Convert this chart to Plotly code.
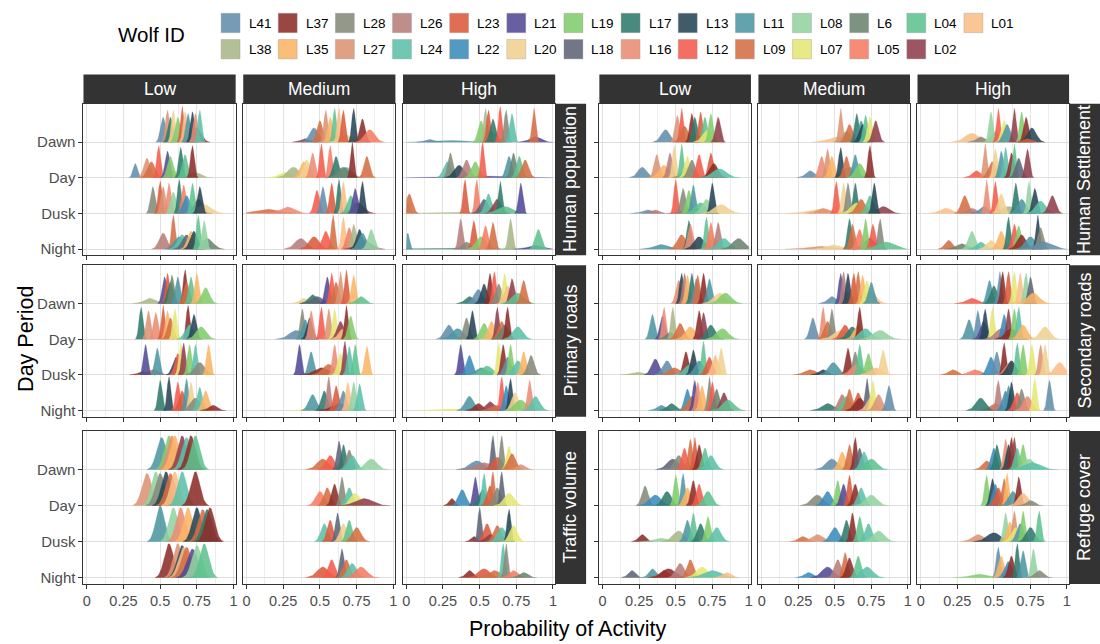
import numpy as np
import plotly.graph_objects as go

W, H = 1100, 644

WOLVES = ["L41", "L38", "L37", "L35", "L28", "L27", "L26", "L24", "L23", "L22",
          "L21", "L20", "L19", "L18", "L17", "L16", "L13", "L12", "L11", "L09",
          "L08", "L07", "L6", "L05", "L04", "L02", "L01"]
WOLF_COLORS = ["#638EAB", "#A9B685", "#8C2D2A", "#F9B565", "#858A7B", "#DC9372",
               "#B67D7A", "#5CC0A8", "#DB5A3C", "#3A8BBB", "#514A95", "#F1D08F",
               "#82CC6C", "#5E6476", "#2F7A6C", "#EA8C74", "#264555", "#F25B4B",
               "#4D96A3", "#D46E43", "#93D3A0", "#E5E774", "#6A8470", "#F57C62",
               "#5DC290", "#8F3F4B", "#F9BE88"]
COLOR = dict(zip(WOLVES, WOLF_COLORS))

PERIODS = ["Night", "Dusk", "Day", "Dawn"]          # y = 1..4
LEVELS = ["Low", "Medium", "High"]
LEFT_FACTORS = ["Human population", "Primary roads", "Traffic volume"]
RIGHT_FACTORS = ["Human Settlement", "Secondary roads", "Refuge cover"]
X_TICKS = [0, 0.25, 0.5, 0.75, 1]
X_TICK_TEXT = ["0", "0.25", "0.5", "0.75", "1"]

# each ridge: (wolf, peak location, peak height in row units[, spread])
hp_low = {
    "Dawn": [("L37", .75, .4, .03), ("L41", .52, .7), ("L27", .55, .9), ("L17", .57, .7), ("L20", .59, .9),
             ("L19", .62, .7), ("L23", .65, 1.0), ("L01", .67, .85), ("L11", .69, .8), ("L13", .72, .85),
             ("L16", .74, .8), ("L24", .77, .9)],
    "Day": [("L38", .74, .15, .04), ("L07", .59, .2, .04), ("L41", .33, .4, .015), ("L27", .41, .55),
            ("L09", .44, .45), ("L12", .49, .9), ("L21", .55, .75), ("L19", .57, .6), ("L17", .64, .85),
            ("L04", .67, .65), ("L37", .72, .9)],
    "Dusk": [("L02", .76, .4), ("L20", .80, .25), ("L28", .45, .75), ("L23", .50, .9), ("L27", .52, .75),
             ("L16", .56, .85), ("L08", .59, .6), ("L17", .63, .95), ("L05", .66, .8), ("L22", .68, .5),
             ("L04", .72, .85), ("L13", .77, .75)],
    "Night": [("L6", .82, .3), ("L26", .52, .45), ("L09", .59, .95), ("L11", .63, .35), ("L24", .65, .4),
              ("L18", .68, .4), ("L35", .71, .5), ("L13", .73, .5), ("L04", .76, .95), ("L08", .80, .8)],
}
hp_med = {
    "Dawn": [("L02", .40, .1, .03), ("L41", .46, .4), ("L09", .50, .6), ("L27", .54, .9), ("L35", .57, .7),
             ("L04", .60, .95), ("L01", .63, .95), ("L20", .68, .2, .04), ("L23", .66, .9), ("L13", .73, .95),
             ("L37", .79, .65), ("L05", .84, .35)],
    "Day": [("L07", .26, .15, .04), ("L38", .32, .3), ("L35", .39, .45), ("L20", .41, .5), ("L16", .45, .7),
            ("L12", .51, .95), ("L05", .57, .9), ("L17", .61, .6), ("L24", .68, .3), ("L6", .66, .3),
            ("L37", .72, 1.0), ("L09", .82, .6)],
    "Dusk": [("L09", .14, .12, .08), ("L16", .28, .18, .05), ("L12", .48, .65), ("L41", .52, .75),
             ("L23", .58, .85), ("L17", .63, .95), ("L01", .66, .9), ("L02", .76, .3), ("L04", .71, .5),
             ("L21", .74, .7), ("L13", .79, .9)],
    "Night": [("L26", .37, .3), ("L23", .46, .35), ("L12", .54, .5), ("L09", .59, .95), ("L01", .66, .9),
              ("L05", .70, .6), ("L38", .73, .7), ("L02", .80, .25), ("L13", .77, .55), ("L11", .79, .45),
              ("L08", .85, .55)],
}
hp_high = {
    "Dawn": [("L11", .30, .05, .12), ("L41", .16, .08, .03), ("L21", .88, .15, .04), ("L04", .58, .3, .04),
             ("L19", .51, .6), ("L38", .54, .95), ("L23", .56, .9), ("L17", .59, .65), ("L12", .64, 1.0),
             ("L28", .68, .9), ("L24", .72, .8), ("L09", .87, .95)],
    "Day": [("L21", .50, .05, .2), ("L24", .28, .45), ("L28", .30, .7), ("L13", .36, .35), ("L26", .41, .5),
            ("L19", .47, .45), ("L12", .52, 1.0), ("L11", .70, .6), ("L6", .73, .7), ("L04", .77, .6),
            ("L09", .81, .5)],
    "Dusk": [("L38", .30, .04, .15), ("L08", .01, .3, .012), ("L09", .02, .55), ("L23", .40, .95),
             ("L05", .48, .95), ("L18", .53, .4), ("L24", .56, .55), ("L02", .62, .4), ("L17", .64, .9),
             ("L04", .67, .2, .05), ("L21", .78, .85)],
    "Night": [("L17", .28, .03, .18), ("L11", .01, .45, .012), ("L26", .37, .85), ("L28", .41, .2, .03),
              ("L23", .46, .8), ("L19", .51, .35), ("L05", .54, .65), ("L09", .59, .75), ("L38", .71, .85),
              ("L21", .88, .1, .05), ("L04", .90, .55)],
}
hs_low = {
    "Dawn": [("L01", .69, .2, .05), ("L41", .43, .35, .03), ("L27", .51, .75), ("L12", .54, .95),
             ("L09", .56, .45), ("L37", .61, .8), ("L17", .63, .7), ("L23", .67, .85), ("L04", .70, .7),
             ("L07", .72, .35), ("L19", .74, .8), ("L02", .79, .7)],
    "Day": [("L41", .27, .3, .03), ("L27", .37, .65), ("L35", .42, .35), ("L26", .46, .7), ("L20", .49, .9),
            ("L09", .59, .3, .04), ("L04", .54, .95), ("L07", .58, .6), ("L28", .61, .5), ("L12", .66, .65),
            ("L23", .74, .7), ("L37", .76, .4), ("L24", .80, .25)],
    "Dusk": [("L41", .31, .1, .04), ("L26", .36, .1, .03), ("L02", .62, .15, .06), ("L12", .50, .95),
             ("L28", .55, .7), ("L19", .59, .65), ("L11", .62, .8), ("L04", .67, .3), ("L08", .71, .4),
             ("L13", .75, .85), ("L20", .81, .25)],
    "Night": [("L11", .40, .13, .05), ("L09", .54, .4), ("L17", .59, .8), ("L16", .60, .7), ("L13", .66, .35),
              ("L01", .76, .3, .03), ("L04", .71, .9), ("L05", .74, .75), ("L26", .79, .75), ("L24", .83, .3),
              ("L6", .93, .3)],
}
hs_med = {
    "Dawn": [("L01", .52, .15, .06), ("L24", .58, .3, .03), ("L27", .54, .95), ("L09", .60, .5),
             ("L17", .65, .8), ("L11", .68, .6), ("L13", .69, .5), ("L04", .71, .75), ("L07", .74, .7),
             ("L02", .78, .6)],
    "Day": [("L41", .33, .2, .03), ("L24", .60, .3, .05), ("L16", .41, .6), ("L27", .45, .8), ("L35", .48, .6),
            ("L13", .54, .85), ("L09", .58, .6), ("L11", .64, .65), ("L19", .67, .4), ("L37", .74, .9)],
    "Dusk": [("L01", .40, .12, .08), ("L27", .42, .15, .04), ("L02", .83, .2, .04), ("L12", .51, .9),
             ("L20", .56, .85), ("L28", .59, .85), ("L17", .64, .85), ("L07", .65, .3), ("L09", .68, .4),
             ("L04", .74, .5), ("L13", .77, .85)],
    "Night": [("L27", .40, .08, .08), ("L20", .49, .12, .05), ("L02", .74, .3, .04), ("L17", .60, .85),
              ("L09", .62, .7), ("L05", .67, .55), ("L19", .71, .85), ("L12", .76, .7), ("L28", .81, .85),
              ("L04", .85, .2)],
}
hs_high = {
    "Dawn": [("L01", .35, .25), ("L28", .41, .15, .03), ("L38", .51, .3, .03), ("L08", .48, .85),
             ("L12", .53, .95), ("L07", .57, .6), ("L11", .59, .5), ("L02", .64, .95), ("L19", .69, .85),
             ("L37", .72, .7), ("L13", .76, .4), ("L23", .73, .1, .03)],
    "Day": [("L12", .38, .2, .03), ("L27", .44, .95), ("L09", .49, .45), ("L20", .51, .8), ("L11", .55, .75),
            ("L24", .58, .85), ("L37", .62, .7), ("L04", .64, .95), ("L18", .67, .55), ("L02", .73, .8)],
    "Dusk": [("L01", .17, .15, .04), ("L09", .30, .5), ("L26", .35, .15, .03), ("L41", .43, .2, .03),
             ("L38", .60, .2, .05), ("L16", .45, .95), ("L12", .51, .9), ("L20", .55, .55), ("L17", .65, .85),
             ("L11", .69, .4), ("L08", .74, .9), ("L13", .78, .7), ("L24", .82, .35), ("L02", .90, .5)],
    "Night": [("L09", .19, .25, .025), ("L6", .28, .15, .04), ("L08", .35, .5), ("L24", .41, .2, .03),
              ("L20", .48, .25, .03), ("L35", .55, .5), ("L17", .60, .9), ("L12", .64, .7), ("L19", .67, .65),
              ("L37", .69, .4), ("L11", .75, .35), ("L13", .80, .95), ("L28", .82, .6), ("L41", .84, .2)],
}
pr_low = {
    "Dawn": [("L38", .43, .15, .04), ("L21", .53, .75), ("L23", .55, .85), ("L17", .57, .6), ("L6", .58, .8),
             ("L11", .62, .75), ("L37", .67, .95), ("L09", .68, .6), ("L04", .71, .75), ("L35", .75, .85),
             ("L19", .81, .45)],
    "Day": [("L17", .37, .9), ("L27", .42, .8), ("L16", .47, .75), ("L23", .52, .95), ("L35", .55, .8),
            ("L09", .57, .6), ("L07", .60, .85), ("L37", .69, .95), ("L24", .70, .4), ("L13", .73, .7),
            ("L19", .78, .35)],
    "Dusk": [("L37", .38, .1, .03), ("L09", .45, .15, .04), ("L21", .40, .85), ("L11", .48, .75),
             ("L13", .61, .5), ("L12", .62, .6), ("L07", .64, .9), ("L02", .66, .9), ("L19", .70, .85),
             ("L24", .74, .85), ("L28", .77, .35), ("L35", .83, .85)],
    "Night": [("L17", .50, .85), ("L13", .56, .95), ("L12", .62, .8), ("L23", .65, .55), ("L11", .68, .9),
              ("L20", .71, .8), ("L28", .74, .35), ("L24", .77, .65), ("L35", .81, .55), ("L37", .86, .15, .03)],
}
pr_med = {
    "Dawn": [("L20", .39, .15, .03), ("L17", .45, .25, .03), ("L18", .48, .2, .04), ("L21", .55, .75),
             ("L12", .58, .85), ("L09", .61, .6), ("L27", .64, .9), ("L23", .68, .95), ("L35", .73, .8),
             ("L04", .78, .2, .03)],
    "Day": [("L41", .34, .25), ("L28", .38, .85), ("L11", .40, .55), ("L13", .43, .6), ("L16", .44, .8),
            ("L12", .51, .9), ("L27", .56, .85), ("L07", .60, .85), ("L02", .64, .5), ("L01", .66, .3, .03),
            ("L37", .68, .95), ("L19", .71, .65)],
    "Dusk": [("L21", .36, .85), ("L11", .44, .65), ("L37", .51, .2, .05), ("L09", .56, .3, .04),
             ("L16", .60, .85), ("L07", .64, .6), ("L02", .67, .95), ("L24", .70, .8), ("L04", .74, .85),
             ("L35", .82, .8)],
    "Night": [("L07", .43, .08, .04), ("L11", .45, .45), ("L17", .53, .55), ("L26", .56, .95),
              ("L37", .63, .2, .05), ("L23", .61, .7), ("L41", .66, .55), ("L01", .69, .8), ("L08", .73, .8),
              ("L24", .77, .75)],
}
pr_high = {
    "Dawn": [("L17", .43, .2, .03), ("L41", .49, .4), ("L13", .53, .55), ("L37", .57, .85), ("L12", .60, .9),
             ("L28", .63, .55), ("L07", .67, .85), ("L01", .69, .5), ("L02", .72, .7), ("L04", .76, .3),
             ("L09", .80, .65)],
    "Day": [("L41", .29, .4), ("L11", .35, .3), ("L28", .41, .6), ("L13", .45, .8), ("L19", .53, .45),
            ("L35", .58, .5), ("L02", .62, .9), ("L09", .65, .5), ("L6", .67, .4), ("L37", .69, .9),
            ("L24", .76, .35)],
    "Dusk": [("L21", .37, .85), ("L22", .43, .55), ("L11", .51, .2, .04), ("L04", .55, .25, .04),
             ("L07", .63, .9), ("L37", .66, .85), ("L41", .69, .5), ("L19", .71, .85), ("L24", .76, .4),
             ("L35", .80, .65), ("L28", .85, .55)],
    "Night": [("L07", .30, .05, .07), ("L11", .43, .4), ("L37", .49, .2, .03), ("L02", .57, .25, .03),
              ("L09", .61, .15, .04), ("L12", .65, .95), ("L22", .68, .7), ("L13", .71, .9), ("L20", .74, .5),
              ("L19", .78, .3), ("L16", .84, .85), ("L24", .88, .4)],
}
sr_low = {
    "Dawn": [("L01", .64, .25, .04), ("L16", .52, .65), ("L13", .54, .85), ("L26", .56, .85), ("L35", .58, .8),
             ("L17", .61, .85), ("L41", .64, .7), ("L09", .65, .8), ("L37", .69, .85), ("L11", .73, .7),
             ("L20", .80, .3), ("L19", .84, .3)],
    "Day": [("L11", .34, .7), ("L21", .41, .65), ("L16", .42, .9), ("L6", .46, .2, .03), ("L38", .48, .9),
            ("L09", .53, .45), ("L35", .60, .35), ("L37", .66, .8), ("L02", .69, .75), ("L17", .74, .4),
            ("L19", .82, .3)],
    "Dusk": [("L38", .24, .08, .04), ("L21", .36, .45), ("L41", .44, .4), ("L09", .49, .2, .04),
             ("L37", .57, .65), ("L24", .60, .3), ("L13", .62, .7), ("L11", .66, .4), ("L04", .69, .95),
             ("L23", .73, .5), ("L01", .77, .55), ("L20", .81, .75)],
    "Night": [("L11", .40, .15, .03), ("L17", .47, .2, .03), ("L22", .58, .6), ("L09", .61, .4),
              ("L21", .63, .85), ("L16", .65, .8), ("L35", .68, .7), ("L28", .73, .95), ("L12", .75, .8),
              ("L6", .78, .6), ("L02", .83, .5), ("L04", .86, .3)],
}
sr_med = {
    "Dawn": [("L41", .48, .2, .03), ("L24", .58, .35, .04), ("L01", .74, .35, .04), ("L21", .54, .85),
             ("L26", .56, .9), ("L13", .59, .85), ("L23", .63, .85), ("L09", .66, .9), ("L35", .69, .8),
             ("L07", .72, .65), ("L11", .75, .6)],
    "Day": [("L41", .35, .6), ("L16", .42, .9), ("L09", .45, .5), ("L28", .48, .85), ("L20", .54, .25),
            ("L23", .57, .4), ("L17", .62, .35), ("L35", .66, .4), ("L37", .67, .9), ("L24", .71, .3),
            ("L08", .81, .25)],
    "Dusk": [("L09", .33, .15, .04), ("L13", .42, .15, .03), ("L11", .49, .35), ("L37", .59, .75),
             ("L28", .64, .65), ("L16", .65, .3, .04), ("L04", .67, .85), ("L19", .73, .6), ("L01", .78, .2, .04),
             ("L20", .83, .7)],
    "Night": [("L17", .45, .2, .04), ("L26", .55, .45), ("L04", .58, .4), ("L09", .60, .6), ("L23", .66, .5),
              ("L37", .67, .35), ("L18", .72, .9), ("L01", .75, .4), ("L07", .76, .85), ("L27", .80, .45),
              ("L41", .87, .7)],
}
sr_high = {
    "Dawn": [("L12", .35, .15, .04), ("L11", .47, .65), ("L17", .50, .5), ("L41", .54, .9), ("L37", .56, .9),
             ("L23", .60, .9), ("L07", .64, .9), ("L01", .68, .85), ("L08", .72, .85), ("L18", .75, .75),
             ("L35", .77, .3)],
    "Day": [("L11", .33, .55), ("L41", .39, .8), ("L21", .43, .5), ("L13", .44, .85), ("L07", .49, .9),
            ("L26", .55, .3), ("L22", .57, .7), ("L02", .60, .85), ("L37", .62, .3), ("L19", .64, .85),
            ("L24", .67, .9), ("L35", .70, .4), ("L20", .85, .35)],
    "Dusk": [("L09", .22, .15, .03), ("L05", .37, .15, .04), ("L22", .48, .5), ("L41", .52, .65),
             ("L37", .57, .9), ("L16", .61, .35), ("L13", .62, .4), ("L04", .66, .9), ("L19", .70, .85),
             ("L07", .76, .85), ("L27", .82, .85), ("L20", .85, .85), ("L01", .95, .35)],
    "Night": [("L09", .51, .2, .04), ("L17", .41, .35), ("L26", .53, .85), ("L22", .58, .55), ("L11", .60, .7),
              ("L13", .62, .8), ("L12", .66, .5), ("L28", .69, .6), ("L16", .73, .4), ("L07", .78, .9),
              ("L41", .88, .85)],
}
tv_low = {
    "Dawn": [("L11", .51, .9), ("L19", .56, .95), ("L16", .58, .95), ("L35", .60, .95), ("L02", .65, .95),
             ("L24", .68, .9), ("L37", .71, .95), ("L04", .74, .95)],
    "Day": [("L27", .41, .9), ("L08", .47, .95), ("L28", .50, .9), ("L13", .54, .95), ("L09", .57, .9),
            ("L01", .60, .95), ("L24", .65, .95), ("L37", .74, .95)],
    "Dusk": [("L11", .50, 1.0), ("L08", .59, .95), ("L16", .64, .95), ("L35", .69, .95), ("L13", .75, .95),
             ("L09", .79, .9), ("L17", .82, .9), ("L37", .84, .95)],
    "Night": [("L37", .56, .95), ("L27", .62, .95), ("L13", .65, .9), ("L01", .66, .85), ("L09", .68, .85),
              ("L21", .72, .8), ("L08", .75, .9), ("L04", .80, .95)],
}
tv_med = {
    "Dawn": [("L09", .52, .3), ("L12", .57, .4), ("L18", .63, .8), ("L17", .66, .7), ("L28", .70, .55),
             ("L24", .72, .4), ("L08", .85, .3)],
    "Day": [("L05", .50, .4), ("L09", .55, .5), ("L37", .60, .6), ("L28", .65, .8), ("L24", .70, .5),
            ("L07", .74, .35), ("L02", .80, .2)],
    "Dusk": [("L24", .53, .5), ("L23", .57, .6), ("L18", .62, .8), ("L20", .66, .5), ("L04", .70, .6),
             ("L09", .75, .4)],
    "Night": [("L23", .52, .3), ("L12", .58, .5), ("L18", .65, .8), ("L09", .68, .5), ("L24", .72, .4),
              ("L05", .78, .3)],
}
tv_high = {
    "Dawn": [("L41", .48, .25), ("L26", .53, .2), ("L18", .59, .95), ("L23", .62, .35), ("L28", .65, .95),
             ("L07", .70, .65), ("L09", .72, .45), ("L27", .78, .15, .03)],
    "Day": [("L37", .31, .2, .02), ("L22", .38, .45), ("L21", .47, .8), ("L17", .52, .45), ("L24", .53, .9),
            ("L23", .57, .55), ("L09", .59, .95), ("L28", .62, .5), ("L18", .65, .95), ("L07", .70, .35)],
    "Dusk": [("L37", .46, .15, .02), ("L18", .50, .95), ("L23", .55, .5), ("L02", .57, .2, .03),
             ("L09", .62, .45), ("L24", .65, .4), ("L13", .70, .9), ("L07", .73, .45)],
    "Night": [("L37", .43, .2, .025), ("L23", .53, .25, .04), ("L09", .60, .2, .04), ("L24", .66, .95),
              ("L28", .68, .95), ("L05", .73, .2, .03), ("L6", .80, .15, .03)],
}
rc_low = {
    "Dawn": [("L18", .48, .3), ("L28", .52, .4), ("L12", .56, .6), ("L09", .60, .85), ("L23", .63, .9),
             ("L37", .66, .7), ("L04", .70, .6), ("L24", .74, .4)],
    "Day": [("L28", .29, .55), ("L22", .36, .3), ("L17", .44, .4), ("L19", .50, .85), ("L11", .55, .9),
            ("L35", .58, .5), ("L37", .62, .7), ("L12", .66, .6), ("L04", .72, .4)],
    "Dusk": [("L37", .27, .2, .025), ("L08", .40, .1, .05), ("L38", .52, .3), ("L11", .58, .6), ("L04", .62, .8),
             ("L17", .67, .5), ("L19", .72, .7), ("L24", .78, .4)],
    "Night": [("L18", .20, .2, .025), ("L11", .34, .25, .025), ("L12", .42, .2, .03), ("L37", .45, .25),
              ("L26", .53, .4), ("L09", .60, .5), ("L07", .68, .3), ("L24", .75, .2), ("L01", .85, .15, .03)],
}
rc_med = {
    "Dawn": [("L41", .48, .3), ("L35", .55, .5), ("L09", .60, .7), ("L37", .64, .9), ("L18", .67, .6),
             ("L24", .70, .5), ("L04", .75, .3)],
    "Day": [("L28", .38, .3), ("L22", .45, .4), ("L19", .52, .7), ("L21", .56, .6), ("L23", .60, .85),
            ("L37", .64, .6), ("L24", .68, .5), ("L08", .75, .3)],
    "Dusk": [("L09", .28, .15, .03), ("L27", .38, .2, .04), ("L22", .50, .4), ("L17", .58, .6), ("L37", .62, .8),
             ("L04", .67, .7), ("L24", .73, .5), ("L08", .80, .3)],
    "Night": [("L22", .32, .15, .03), ("L21", .45, .3), ("L26", .52, .5), ("L09", .57, .7), ("L37", .60, .55),
              ("L04", .66, .6), ("L24", .72, .3)],
}
rc_high = {
    "Dawn": [("L09", .45, .25, .03), ("L22", .50, .6), ("L17", .52, .7), ("L16", .58, .85), ("L13", .60, .7),
             ("L37", .62, .9), ("L02", .64, .9), ("L04", .66, .6), ("L19", .70, .7), ("L08", .74, .3),
             ("L24", .76, .2)],
    "Day": [("L19", .45, .85), ("L13", .49, .75), ("L22", .51, .6), ("L23", .53, .5), ("L09", .57, .75),
            ("L35", .59, .9), ("L11", .63, .4), ("L37", .67, .8), ("L01", .70, .35), ("L28", .75, .15, .03)],
    "Dusk": [("L27", .39, .2, .04), ("L13", .50, .25), ("L08", .58, .8), ("L35", .61, .55), ("L27", .64, .85),
             ("L07", .65, .4), ("L11", .68, .5), ("L19", .70, .85), ("L17", .75, .4), ("L04", .81, .85)],
    "Night": [("L19", .40, .1, .06), ("L41", .53, .85), ("L35", .55, .6), ("L22", .60, .45), ("L37", .62, .6),
              ("L17", .66, .95), ("L11", .70, .75), ("L08", .77, .8), ("L28", .81, .2, .03)],
}

LEFT_DATA = [[hp_low, hp_med, hp_high], [pr_low, pr_med, pr_high], [tv_low, tv_med, tv_high]]
RIGHT_DATA = [[hs_low, hs_med, hs_high], [sr_low, sr_med, sr_high], [rc_low, rc_med, rc_high]]
AREA = {id(tv_low): 0.03}
DEFAULT_AREA = 0.012

# ---------------- layout geometry (pixels) ----------------
LEFT_COLS = [82.7, 242.9, 403.1]
LEFT_W = 152.6
RIGHT_COLS = [600.0, 759.5, 919.0]
RIGHT_W = 152.0
ROWS = [(104.0, 256.0), (266.0, 418.0), (432.3, 585.7)]
XR = [-0.0225, 1.015]
YR = [0.83, 5.08]
FONT = "Liberation Sans, Arial, Helvetica, sans-serif"
STRIP = "#333333"
TXT = "#4D4D4D"


def rgba(hexc, a):
    h = hexc.lstrip("#")
    return "rgba(%d,%d,%d,%.2f)" % (int(h[0:2], 16), int(h[2:4], 16), int(h[4:6], 16), a)


fig = go.Figure()
layout = {}
shapes = []
annotations = []

k = 0
for group, (cols, cw, data, factors) in enumerate([(LEFT_COLS, LEFT_W, LEFT_DATA, LEFT_FACTORS),
                                                   (RIGHT_COLS, RIGHT_W, RIGHT_DATA, RIGHT_FACTORS)]):
    for r in range(3):
        top, bot = ROWS[r]
        for c in range(3):
            k += 1
            left = cols[c]
            right = left + cw
            panel = data[r][c]
            area = AREA.get(id(panel), DEFAULT_AREA)
            xa = "x" if k == 1 else "x%d" % k
            ya = "y" if k == 1 else "y%d" % k
            # ridges: top row first so lower rows overlap
            for pi in [3, 2, 1, 0]:
                per = PERIODS[pi]
                base = pi + 1
                for item in panel[per]:
                    wolf, m, h = item[0], item[1], item[2]
                    sd = item[3] if len(item) > 3 else min(area / h, 0.08)
                    lo = max(0.0, m - 3 * sd)
                    hi = min(1.0, m + 3 * sd)
                    xs = np.linspace(lo, hi, 50)
                    ys = base + h * np.exp(-0.5 * ((xs - m) / sd) ** 2)
                    px = np.concatenate([[lo], xs, [hi]])
                    py = np.concatenate([[base], ys, [base]])
                    col = COLOR[wolf]
                    fig.add_trace(go.Scatter(
                        x=px, y=py, mode="lines", fill="toself",
                        fillcolor=rgba(col, 0.88), line=dict(width=0.3, color=rgba(col, 0.9)),
                        hoverinfo="skip", showlegend=False, xaxis=xa, yaxis=ya))
            xkey = "xaxis" if k == 1 else "xaxis%d" % k
            ykey = "yaxis" if k == 1 else "yaxis%d" % k
            layout[xkey] = dict(
                domain=[left / W, right / W], range=XR, anchor=ya,
                tickvals=X_TICKS, ticktext=X_TICK_TEXT, ticks="outside", ticklen=4,
                tickcolor="#333333", tickwidth=1, showticklabels=(r == 2),
                tickfont=dict(size=14.5, color=TXT, family=FONT),
                showgrid=True, gridcolor="#E2E2E2", gridwidth=1.3, zeroline=False,
                showline=True, mirror=True, linecolor="#333333", linewidth=1,
                minor=dict(tickmode="array", tickvals=[0.125, 0.375, 0.625, 0.875],
                           showgrid=True, gridcolor="#EDEDED", gridwidth=0.8, ticks=""),
                fixedrange=True)
            layout[ykey] = dict(
                domain=[1 - bot / H, 1 - top / H], range=YR, anchor=xa,
                tickvals=[1, 2, 3, 4], ticktext=PERIODS,
                ticks="outside" if c == 0 else "", ticklen=4, tickcolor="#333333", tickwidth=1,
                showticklabels=(c == 0 and group == 0),
                tickfont=dict(size=15, color=TXT, family=FONT),
                showgrid=True, gridcolor="#DEDEDE", gridwidth=1.4, zeroline=False,
                showline=True, mirror=True, linecolor="#333333", linewidth=1,
                fixedrange=True)
            # column header strips (top row only)
            if r == 0:
                shapes.append(dict(type="rect", xref="paper", yref="paper",
                                   x0=left / W, x1=right / W, y0=1 - 104.0 / H, y1=1 - 74.7 / H,
                                   fillcolor=STRIP, line=dict(width=0), layer="above"))
                annotations.append(dict(xref="paper", yref="paper", x=(left + right) / 2 / W,
                                        y=1 - 89.5 / H, text=LEVELS[c], showarrow=False,
                                        xanchor="center", yanchor="middle",
                                        font=dict(size=17.5, color="white", family=FONT)))
        # side strip
        sx0 = cols[2] + cw
        sx1 = sx0 + 31
        shapes.append(dict(type="rect", xref="paper", yref="paper",
                           x0=sx0 / W, x1=sx1 / W, y0=1 - bot / H, y1=1 - top / H,
                           fillcolor=STRIP, line=dict(width=0), layer="above"))
        annotations.append(dict(xref="paper", yref="paper", x=(sx0 + 15.5) / W,
                                y=1 - (top + bot) / 2 / H, text=factors[r], showarrow=False,
                                textangle=-90, xanchor="center", yanchor="middle",
                                font=dict(size=18, color="white", family=FONT)))

# axis titles
annotations.append(dict(xref="paper", yref="paper", x=25 / W, y=1 - 340 / H, text="Day Period",
                        showarrow=False, textangle=-90, xanchor="center", yanchor="middle",
                        font=dict(size=21.5, color="black", family=FONT)))
annotations.append(dict(xref="paper", yref="paper", x=567.7 / W, y=1 - 631 / H,
                        text="Probability of Activity", showarrow=False,
                        xanchor="center", yanchor="middle",
                        font=dict(size=21.5, color="black", family=FONT)))

# legend (drawn as keys + labels)
annotations.append(dict(xref="paper", yref="paper", x=115 / W, y=1 - 35 / H, text="Wolf ID",
                        showarrow=False, xanchor="left", yanchor="middle",
                        font=dict(size=20.5, color="black", family=FONT)))
for i, wolf in enumerate(WOLVES):
    cidx, ridx = i // 2, i % 2
    kx = 220.7 + cidx * 57.3
    ky = 13.3 + ridx * 26.3
    shapes.append(dict(type="rect", xref="paper", yref="paper",
                       x0=kx / W, x1=(kx + 19) / W, y0=1 - (ky + 19.5) / H, y1=1 - ky / H,
                       fillcolor=rgba(COLOR[wolf], 0.88), line=dict(width=0.6, color="rgba(150,150,150,0.6)")))
    annotations.append(dict(xref="paper", yref="paper", x=(kx + 25.5) / W, y=1 - (ky + 10) / H,
                            text=wolf, showarrow=False, xanchor="left", yanchor="middle",
                            font=dict(size=13.5, color="black", family=FONT)))

fig.update_layout(
    width=W, height=H, margin=dict(l=0, r=0, t=0, b=0),
    paper_bgcolor="white", plot_bgcolor="white", showlegend=False,
    shapes=shapes, annotations=annotations, font=dict(family=FONT), **layout)

fig.write_html("out.html", config={"displayModeBar": False},
               post_script="document.body.style.margin='0';document.body.style.overflow='hidden';")
